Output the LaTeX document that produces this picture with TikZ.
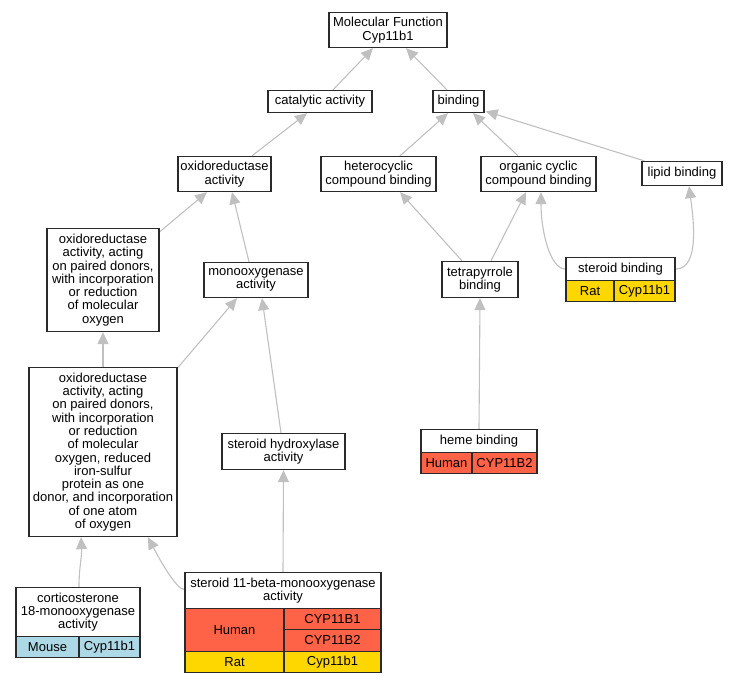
\documentclass[tikz,border=0pt]{standalone}
\usepackage{fontspec}
\setmainfont{Liberation Sans}
\usetikzlibrary{arrows.meta,calc,backgrounds}
\definecolor{human}{HTML}{FF6347}
\definecolor{rat}{HTML}{FFD700}
\definecolor{mouse}{HTML}{ADD8E6}
\definecolor{edgegray}{HTML}{C0C0C0}
\definecolor{boxline}{HTML}{2A2A2A}
\begin{document}
\begin{tikzpicture}[x=1pt,y=-1pt,
  box/.style={draw=boxline, line width=1.3pt, fill=white, inner sep=0pt, align=center,
    font=\fontsize{13}{13.3}\selectfont},
  link/.style={draw=edgegray, line width=1.1pt, -{Triangle[length=12pt,width=11pt]}},
]
\useasboundingbox (0,0) rectangle (736,683);

% row 1
\node[box, minimum width=118pt, minimum height=35pt] (mf) at (388,30) {Molecular Function\\Cyp11b1};
% row 2
\node[box, minimum width=104pt, minimum height=22pt] (cat) at (320,101.5) {catalytic activity};
\node[box, minimum width=51pt, minimum height=22pt] (bind) at (458.5,101.5) {binding};
% row 3
\node[box, minimum width=93pt, minimum height=35pt] (oxa) at (224.5,174) {oxidoreductase\\activity};
\node[box, minimum width=115pt, minimum height=35pt] (het) at (378.5,174) {heterocyclic\\compound binding};
\node[box, minimum width=115pt, minimum height=35pt] (org) at (538.5,174) {organic cyclic\\compound binding};
\node[box, minimum width=80pt, minimum height=24pt] (lip) at (682,173.5) {lipid binding};
% row 4
\node[box, minimum width=112pt, minimum height=103pt] (pd) at (103,280) {oxidoreductase\\activity, acting\\on paired donors,\\with incorporation\\or reduction\\of molecular\\oxygen};
\node[box, minimum width=104pt, minimum height=35pt] (mono) at (256,280) {monooxygenase\\activity};
\node[box, minimum width=76pt, minimum height=36pt] (tetra) at (480,279.5) {tetrapyrrole\\binding};
\node[box, minimum width=109pt, minimum height=23pt] (sbh) at (620.5,269) {steroid binding};
\node[box, fill=rat, minimum width=48pt, minimum height=21pt] (sbr) at (590,291) {Rat};
\node[box, fill=rat, minimum width=61pt, minimum height=21pt] (sbg) at (644.5,291) {Cyp11b1};
% row 5
\node[box, minimum width=148pt, minimum height=169pt] (big) at (103,452) {oxidoreductase\\activity, acting\\on paired donors,\\with incorporation\\or reduction\\of molecular\\oxygen, reduced\\iron-sulfur\\protein as one\\donor, and incorporation\\of one atom\\of oxygen};
\node[box, minimum width=123pt, minimum height=36pt] (sh) at (283.5,451.5) {steroid hydroxylase\\activity};
\node[box, minimum width=116pt, minimum height=23pt] (hemeh) at (479,441) {heme binding};
\node[box, fill=human, minimum width=51pt, minimum height=21pt] (hemes) at (446.5,463) {Human};
\node[box, fill=human, minimum width=65pt, minimum height=21pt] (hemeg) at (504.5,463) {CYP11B2};
% row 6
\node[box, minimum width=124pt, minimum height=49pt] (corth) at (78,612) {corticosterone\\18-monooxygenase\\activity};
\node[box, fill=mouse, minimum width=63pt, minimum height=21pt] (corts) at (47.5,647) {Mouse};
\node[box, fill=mouse, minimum width=61pt, minimum height=21pt] (cortg) at (109.5,647) {Cyp11b1};
\node[box, minimum width=196pt, minimum height=36pt] (s11h) at (283,590.5) {steroid 11-beta-monooxygenase\\activity};
\node[box, fill=human, minimum width=99pt, minimum height=43pt] (s11hs) at (234.5,630) {Human};
\node[box, fill=human, minimum width=97pt, minimum height=21pt] (s11g1) at (332.5,619) {CYP11B1};
\node[box, fill=human, minimum width=97pt, minimum height=22pt] (s11g2) at (332.5,640.5) {CYP11B2};
\node[box, fill=rat, minimum width=99pt, minimum height=21pt] (s11rs) at (234.5,662) {Rat};
\node[box, fill=rat, minimum width=97pt, minimum height=21pt] (s11rg) at (332.5,662) {Cyp11b1};

\begin{scope}[on background layer]
\draw[link] ($(cat.north)+(13,0)$) -- ($(mf.south)+(-15,0)$);
\draw[link] ($(bind.north)+(-11.5,0)$) -- ($(mf.south)+(18,0)$);
\draw[link] ($(oxa.north)+(27.5,0)$) -- ($(cat.south)+(-13,0)$);
\draw[link] ($(het.north)+(21.5,0)$) -- ($(bind.south)+(-10.5,0)$);
\draw[link] ($(org.north)+(-20.5,0)$) -- ($(bind.south)+(14.5,0)$);
\draw[link] ($(lip.north west)+(3,0)$) -- ($(bind.south east)+(1,-2)$);
\draw[link] ($(pd.north east)+(0,4)$) -- ($(oxa.south)+(-17.5,0)$);
\draw[link] ($(mono.north)+(-7,0)$) -- ($(oxa.south)+(7.5,0)$);
\draw[link] ($(tetra.north)+(-18,0)$) -- ($(het.south)+(21.5,0)$);
\draw[link] ($(tetra.north)+(11,0)$) -- ($(org.south)+(-12.5,0)$);
\draw[link] (sbh.west) .. controls +(-15,0) and +(0,40) .. ($(org.south)+(2.5,0)$);
\draw[link] (sbh.east) .. controls +(25,0) and +(4,30) .. ($(lip.south)+(7,0)$);
\draw[link] (big.north) -- (pd.south);
\draw[link] ($(big.north east)+(0,1)$) -- ($(mono.south)+(-19,0)$);
\draw[link] ($(sh.north)+(-2.5,0)$) -- ($(mono.south)+(6,0)$);
\draw[link] (hemeh.north) -- (tetra.south);
\draw[link] ($(corth.north)+(1,0)$) .. controls +(0,-20) and +(1,20) .. ($(big.south)+(-22,0)$);
\draw[link] ($(s11h.west)+(0,-1)$) .. controls +(-8,0) and +(12,23) .. ($(big.south)+(45,0)$);
\draw[link] (s11h.north) -- (sh.south);
\end{scope}
\end{tikzpicture}
\end{document}
